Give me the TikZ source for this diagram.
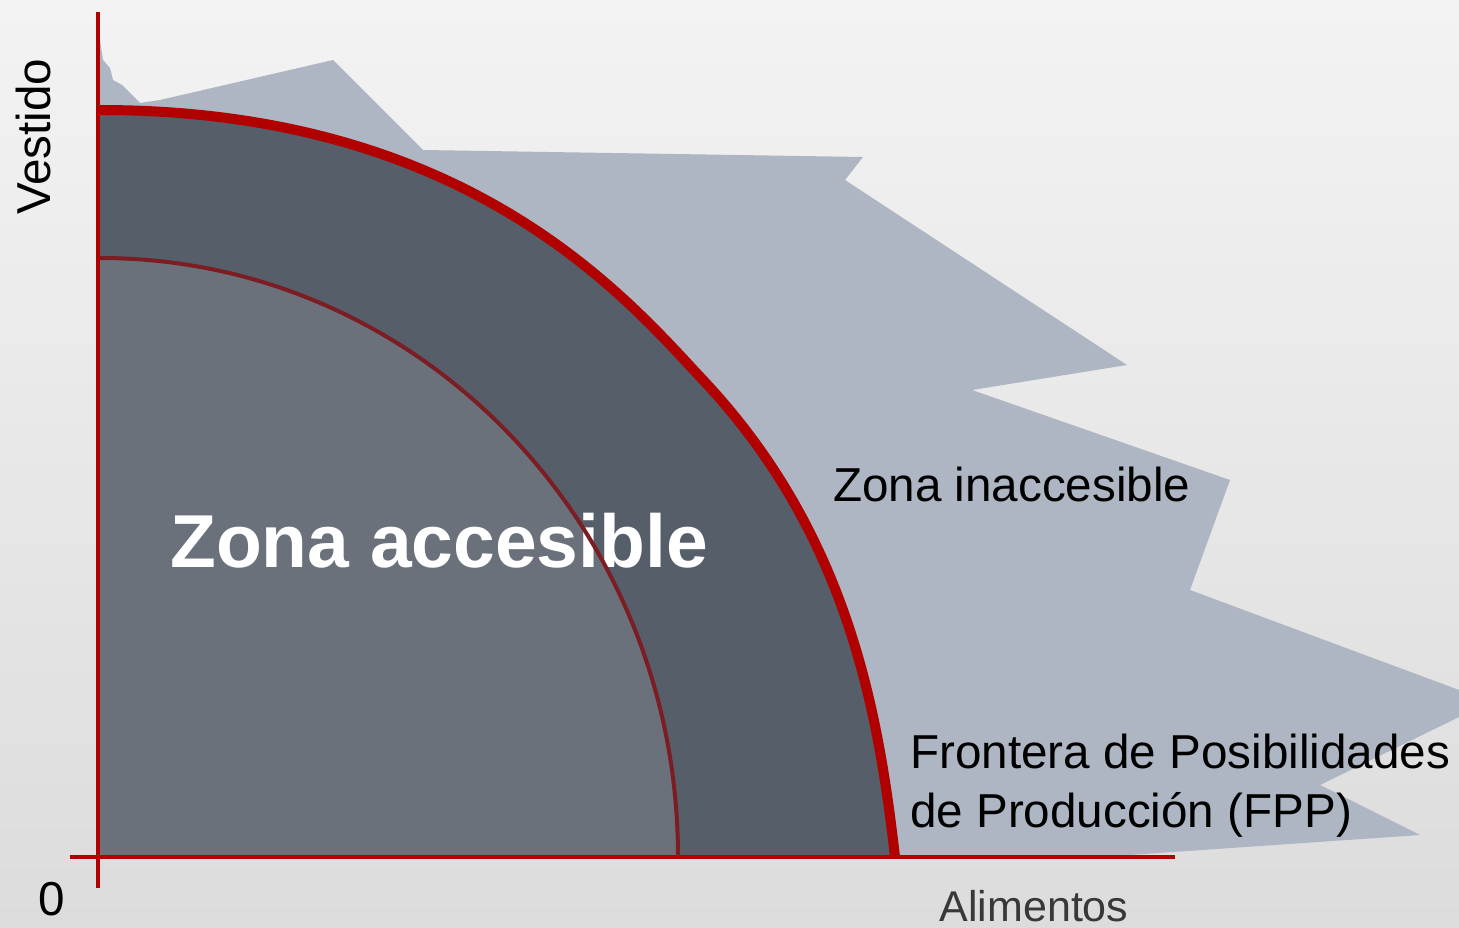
\documentclass[tikz,border=0pt]{standalone}
\usepackage{fontspec}
\setmainfont{Liberation Sans}
\definecolor{axisred}{HTML}{B00000}
\definecolor{innerred}{HTML}{7C1D24}
\definecolor{zonegrey}{HTML}{ADB6C2}
\definecolor{darkzone}{HTML}{555E69}
\definecolor{innerzone}{HTML}{6A717A}
\definecolor{bgtop}{HTML}{F3F3F3}
\definecolor{bgbottom}{HTML}{DCDCDC}
\tikzset{
  axisline/.style={draw=axisred, line width=4pt},
  fppline/.style={draw=axisred, line width=10pt},
  zonetext/.style={font=\fontsize{47.6}{59}\selectfont, inner sep=0pt},
}
\begin{document}
\begin{tikzpicture}[x=1pt,y=-1pt]
    \useasboundingbox (0,0) rectangle (1459,928);
    \shade[top color=bgtop, bottom color=bgbottom] (0,0) rectangle (1459,928);
    \fill[zonegrey] (100,40) -- (103,60) -- (110,68) -- (113,80) -- (122,85) -- (140,103) -- (160,100) -- (333,60) -- (423,150) -- (863,157) -- (845,180) -- (1127,365) -- (972,390) -- (1230,480) -- (1190,590) -- (1459,690) -- (1459,717) -- (1320,785) -- (1420,835) -- (1100,857) -- (100,857) -- cycle;
    \coordinate (fpptopend) at (100,110);
    \coordinate (fppmid) at (703,380);
    \coordinate (fppend) at (895,857);
    \fill[darkzone] (98,857) -- (98,110) -- (fpptopend) .. controls (470,110) and (628,300) .. (fppmid) .. controls (846,532) and (878,707) .. (fppend) -- cycle;
    \fill[innerzone] (98,857) -- (98,258) -- (100,258) arc[start angle=-90, end angle=0, x radius=578, y radius=599] -- cycle;
    \node[zonetext, font=\bfseries\fontsize{75}{90}\selectfont, text=white, anchor=base west] (accesible) at (170,567) {Zona accesible};
    \draw[innerred, line width=4pt] (100,258) arc[start angle=-90, end angle=0, x radius=578, y radius=599];
    \draw[fppline] (fpptopend) .. controls (470,110) and (628,300) .. (fppmid) .. controls (846,532) and (878,707) .. (fppend);
    \coordinate (origin) at (98,857);
    \draw[axisline] (origin |- 0,12) -- (origin |- 0,888);
    \draw[axisline] (70,857) -- (1175,857);
    \node[zonetext, rotate=90, anchor=base west] (vestido) at (50,215) {Vestido};
    \node[zonetext] (cero) at (52,899) {0};
    \node[zonetext, font=\fontsize{43}{50}\selectfont, text=black!78, anchor=base] (alimentos) at (1034,921) {Alimentos};
    \node[zonetext, anchor=base west] (inaccesible) at (833,501) {Zona inaccesible};
    \node[zonetext, anchor=base west] (fpptop) at (910,768) {Frontera de Posibilidades};
    \node[zonetext, anchor=base west] (fppbottom) at (910,827) {de Producción (FPP)};
\end{tikzpicture}
\end{document}
